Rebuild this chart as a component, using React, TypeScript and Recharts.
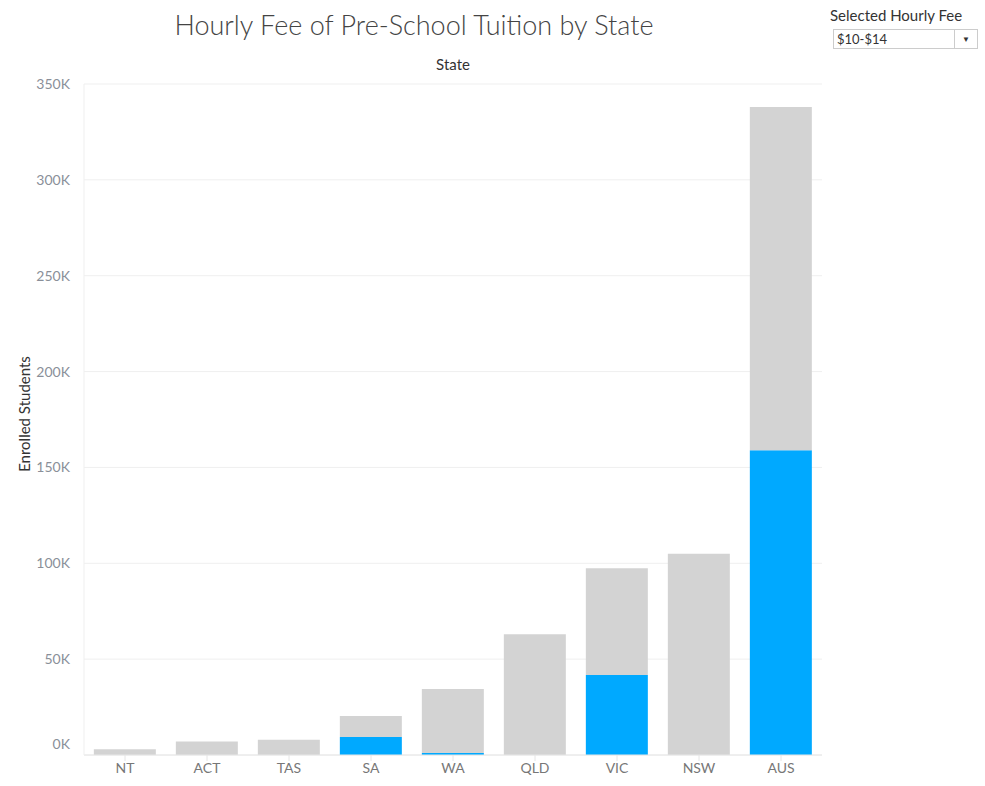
import { BarChart, Bar, XAxis, YAxis, CartesianGrid } from 'recharts';

const states = ['NT', 'ACT', 'TAS', 'SA', 'WA', 'QLD', 'VIC', 'NSW', 'AUS'];
const selected = [0, 0, 0, 9400, 1000, 0, 41700, 0, 159000];
const totals = [3000, 7000, 8000, 20300, 34400, 63000, 97400, 105000, 338000];
const yTicks = [0, 50000, 100000, 150000, 200000, 250000, 300000, 350000];

const data = states.map((s, i) => ({ state: s, sel: selected[i], rest: totals[i] - selected[i] }));
const font = 'Lato, "Open Sans", sans-serif';

const YTick = (p: any) => {
  const v = p.payload.value;
  return (
    <text x={p.x - 6} y={v === 0 ? p.y - 11 : p.y} dy={5} textAnchor="end" fill="#8a8f99" fontSize={14} fontFamily={font}>
      {v / 1000}K
    </text>
  );
};

export default function App() {
  return (
    <div style={{ position: 'absolute', left: 0, top: 0, width: 985, height: 786, background: '#fff', fontFamily: font }}>
      <div style={{ position: 'absolute', left: 0, width: 828, top: 8, textAlign: 'center', fontSize: 27, fontWeight: 300, color: '#444' }}>
        Hourly Fee of Pre-School Tuition by State
      </div>
      <div style={{ position: 'absolute', left: 84, width: 738, top: 55, textAlign: 'center', fontSize: 15, color: '#333' }}>State</div>
      <div style={{ position: 'absolute', left: 8, top: 414, transform: 'translate(-50%,-50%) rotate(-90deg)', transformOrigin: 'center', marginLeft: 16, fontSize: 15, color: '#333', whiteSpace: 'nowrap' }}>
        Enrolled Students
      </div>
      <div style={{ position: 'absolute', left: 830, top: 6, fontSize: 15, color: '#333' }}>Selected Hourly Fee</div>
      <div style={{ position: 'absolute', left: 833, top: 29, width: 145, height: 20, border: '1px solid #ccc', fontSize: 13, color: '#333', boxSizing: 'border-box', paddingLeft: 3, lineHeight: '18px' }}>
        $10-$14
        <span style={{ position: 'absolute', right: 0, top: 0, width: 22, height: 18, borderLeft: '1px solid #ccc', textAlign: 'center', fontSize: 8 }}>▼</span>
      </div>
      <div style={{ position: 'absolute', left: 0, top: 0 }}>
        <BarChart width={830} height={786} data={data} margin={{ top: 84, right: 8, bottom: 0, left: 0 }} barCategoryGap="12%">
          <CartesianGrid vertical={false} stroke="#efefef" />
          <XAxis dataKey="state" height={31} axisLine={{ stroke: '#e6e6e6' }} tickLine={{ stroke: '#e6e6e6' }} tick={{ fill: '#777', fontSize: 14, fontFamily: font }} tickSize={6} />
          <YAxis width={84} domain={[0, 350000]} ticks={yTicks} axisLine={{ stroke: '#efefef' }} tickLine={false} tick={<YTick />} />
          <Bar dataKey="sel" stackId="a" fill="#00a9ff" isAnimationActive={false} />
          <Bar dataKey="rest" stackId="a" fill="#d3d3d3" isAnimationActive={false} />
        </BarChart>
      </div>
    </div>
  );
}
